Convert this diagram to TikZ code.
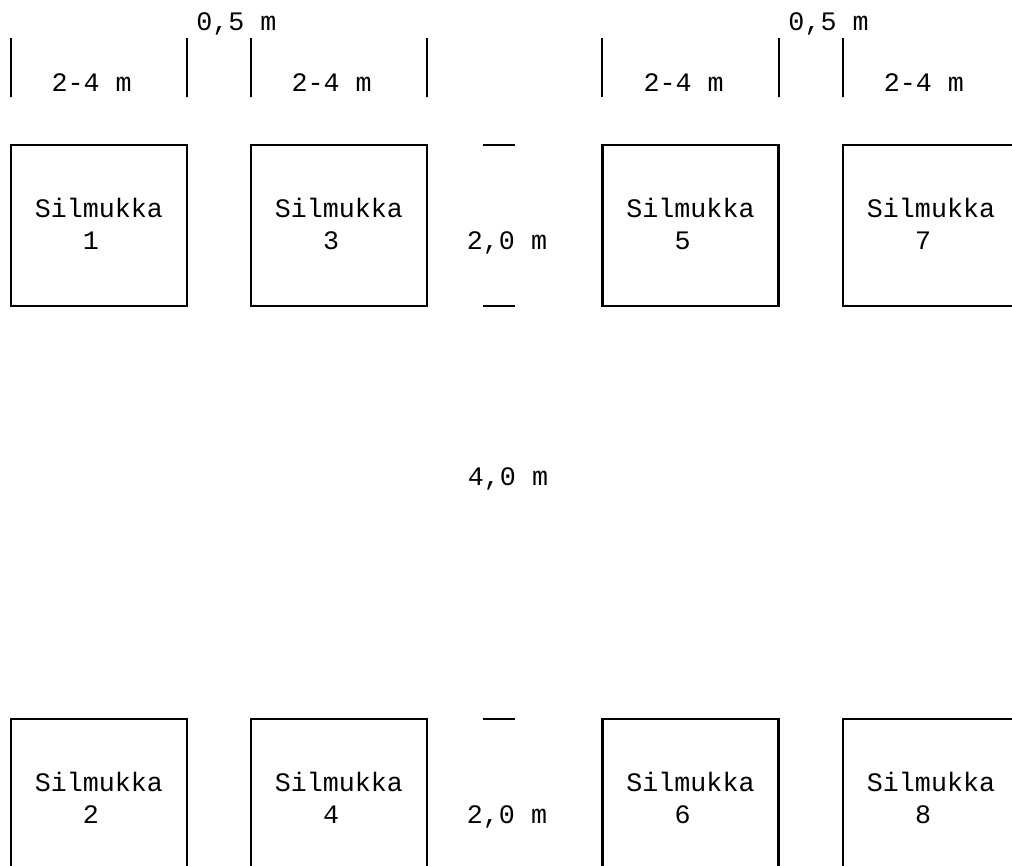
\documentclass[tikz,border=0pt]{standalone}
\usepackage{fontspec}
\setmonofont{Liberation Mono}
\tikzset{
	silmukka/.style={draw, line width=2.2pt, minimum width=176pt, minimum height=161pt, inner sep=0pt},
	teksti/.style={anchor=base, inner sep=0pt, font=\ttfamily\fontsize{26.67pt}{32pt}\selectfont},
	mitta/.style={line width=2.2pt}
}
\begin{document}
\begin{tikzpicture}[x=1pt,y=-1pt]
	\useasboundingbox (0,0) rectangle (1012,865);
	\clip (0,0) rectangle (1012,865); % boxes run off the page
	
	% silmukat
	\foreach \n/\x/\y in {1/99/225.5,3/339/225.5,5/690.5/225.5,7/931/225.5,2/99/799.5,4/339/799.5,6/690.5/799.5,8/931/799.5}{
		\node[silmukka] (s\n) at (\x,\y) {};
		\node[teksti] (t\n) at ([yshift=8pt]s\n.center) {Silmukka};
		\node[teksti] (n\n) at ([xshift=-8pt,yshift=-24pt]s\n.center) {\n};
	}
	
	% leveysmitat
	\foreach \x in {11,187,251,427,602,779,843}
		\draw[mitta] (\x,38) -- (\x,97);
	\node[teksti] (l1) at (91.7,91) {2-4 m};
	\node[teksti] (l2) at (331.7,91) {2-4 m};
	\node[teksti] (l3) at (683.7,91) {2-4 m};
	\node[teksti] (l4) at (923.8,91) {2-4 m};
	\node[teksti] (v1) at (236.3,30) {0,5 m};
	\node[teksti] (v2) at (828.5,30) {0,5 m};
	
	% korkeusmitat
	\foreach \y in {145,306,719}
		\draw[mitta] (483,\y) -- (515,\y);
	\node[teksti] (k1) at (507,249.5) {2,0 m};
	\node[teksti] (k2) at (507,823.5) {2,0 m};
	\node[teksti] (k3) at (508,485) {4,0 m};% rivien valinen
	
\end{tikzpicture}
\end{document}
